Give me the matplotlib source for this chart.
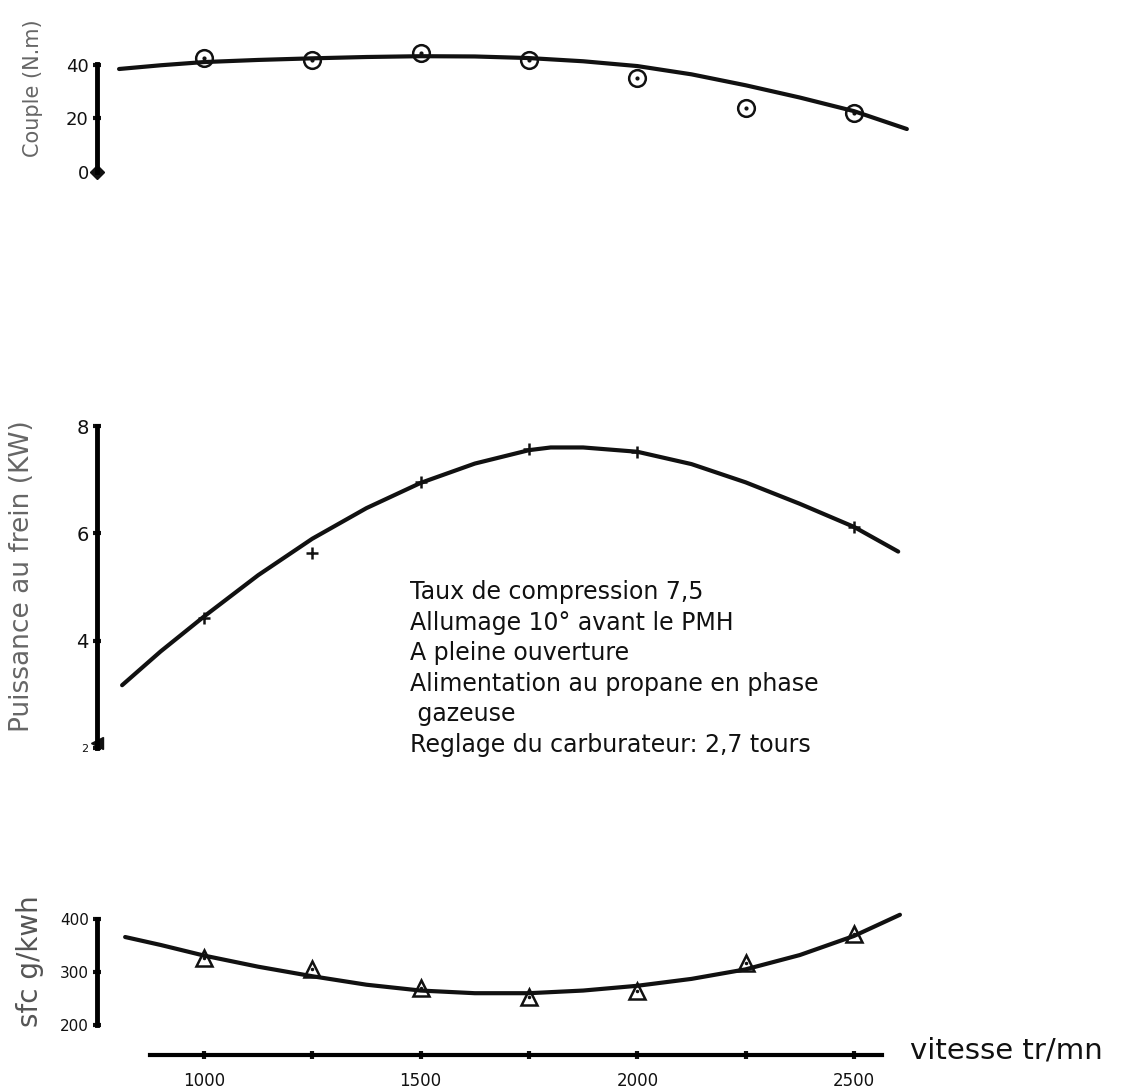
import numpy as np
import matplotlib.pyplot as plt

W, H, DPI = 1139, 1089, 100

# vitesse (tr/mn) des points de mesure
rpm_pts = [1000, 1250, 1500, 1750, 2000, 2250, 2500]

# couple (N.m) mesure
couple_pts = [42.5, 41.9, 44.4, 41.9, 35.3, 23.8, 21.9]
couple_rpm = [804, 900, 1000, 1125, 1250, 1375, 1500, 1625, 1750, 1875,
              2000, 2125, 2250, 2375, 2500, 2622]
couple_crv = [38.5, 39.9, 41.1, 41.9, 42.5, 43.0, 43.3, 43.2, 42.6, 41.4,
              39.6, 36.5, 32.4, 27.8, 22.7, 16.0]

# puissance au frein (kW)
puis_rpm_pts = [1000, 1250, 1500, 1750, 2000, 2500]
puis_pts = [4.42, 5.63, 6.96, 7.58, 7.52, 6.12]
puis_rpm = [811, 900, 1000, 1125, 1250, 1375, 1500, 1625, 1750, 1800, 1875,
            2000, 2125, 2250, 2375, 2500, 2602]
puis_crv = [3.17, 3.80, 4.45, 5.22, 5.90, 6.47, 6.94, 7.30, 7.55, 7.60, 7.60,
            7.52, 7.29, 6.95, 6.55, 6.12, 5.66]

# consommation specifique (g/kWh)
sfc_pts = [326, 305, 270, 252, 264, 317, 372]
sfc_rpm = [818, 900, 1000, 1125, 1250, 1375, 1500, 1625, 1750, 1875,
           2000, 2125, 2250, 2375, 2500, 2606]
sfc_crv = [366, 351, 331, 310, 292, 276, 265, 260, 260, 265,
           274, 287, 305, 332, 368, 408]

x_ticks = [1000, 1250, 1500, 1750, 2000, 2250, 2500]
x_labels = ['1000', '', '1500', '', '2000', '', '2500']

notes = ["Taux de compression 7,5",
         "Allumage 10° avant le PMH",
         "A pleine ouverture",
         "Alimentation au propane en phase",
         " gazeuse",
         "Reglage du carburateur: 2,7 tours"]

plt.rcParams['font.family'] = 'DejaVu Sans'
fig = plt.figure(figsize=(W / DPI, H / DPI), dpi=DPI)

# pixel -> rpm : 1000 a x=204, 2500 a x=854
def rpm_at(px):
    return 1000 + (px - 204) * 1500 / 650

X_SPINE = rpm_at(97)


def panel(top_px, bot_px, pa, va, pb, vb):
    ax = fig.add_axes([0, 1 - bot_px / H, 1, (bot_px - top_px) / H])
    k = (vb - va) / (pb - pa)
    ax.set_ylim(va + (bot_px - pa) * k, va + (top_px - pa) * k)
    ax.set_xlim(rpm_at(0), rpm_at(W))
    ax.patch.set_alpha(0)
    for s in ['top', 'right', 'bottom']:
        ax.spines[s].set_visible(False)
    ax.spines['left'].set_position(('data', X_SPINE))
    ax.spines['left'].set_linewidth(3.5)
    ax.set_xticks([])
    ax.tick_params(axis='y', direction='inout', length=6, width=3, pad=3,
                   labelsize=12, colors='#111')
    return ax


lc = '#111111'

# --- couple ---
ax1 = panel(0, 260, 65, 40, 171.7, 0)
ax1.spines['left'].set_bounds(0, 40.3)
ax1.set_yticks([0, 20, 40])
ax1.tick_params(axis='y', labelsize=13)
ax1.plot(couple_rpm, couple_crv, color=lc, lw=3, solid_capstyle='round')
ax1.plot(rpm_pts, couple_pts, 'o', ms=12, mfc='none', mec=lc, mew=1.8)
ax1.plot(rpm_pts, couple_pts, '.', ms=4, color=lc)
ax1.plot([X_SPINE], [0], 'D', ms=7, color=lc, clip_on=False)
ax1.text(rpm_at(33), 31.4, "Couple (N.m)", rotation=90, ha='center',
         va='center', fontsize=15, color='#666')

# --- puissance ---
ax2 = panel(380, 790, 426, 8, 748, 2)
ax2.spines['left'].set_bounds(2, 8)
ax2.set_yticks([2, 4, 6, 8])
ax2.set_yticklabels(['2', '4', '6', '8'])
ax2.tick_params(axis='y', labelsize=14)
ax2.get_yticklabels()[0].set_fontsize(8)
ax2.plot(puis_rpm, puis_crv, color=lc, lw=3, solid_capstyle='round')
ax2.plot(puis_rpm_pts, puis_pts, '+', ms=9, color=lc, mew=1.8)
ax2.plot([X_SPINE], [2.1], '<', ms=9, color=lc, clip_on=False)
ax2.text(rpm_at(22), 5.2, "Puissance au frein (KW)", rotation=90,
         ha='center', va='center', fontsize=19, color='#666')
for i, line in enumerate(notes):
    ax2.text(rpm_at(410), 8 - (592 + i * 30.6 - 426) / 53.67, line,
             fontsize=17, color='#111', ha='left', va='center')

# --- sfc ---
ax3 = panel(880, H, 919, 400, 1025, 200)
ax3.spines['left'].set_bounds(200, 400)
ax3.set_yticks([200, 300, 400])
ax3.tick_params(axis='y', labelsize=11)
ax3.plot(sfc_rpm, sfc_crv, color=lc, lw=3, solid_capstyle='round')
ax3.plot(rpm_pts, sfc_pts, '^', ms=12, mfc='none', mec=lc, mew=1.8)
ax3.plot(rpm_pts, sfc_pts, '.', ms=3, color=lc)
ax3.text(rpm_at(30), 320, "sfc g/kwh", rotation=90, ha='center',
         va='center', fontsize=20, color='#555')

# axe des vitesses
y_axis = 200 - (1055 - 1025) / 0.53
ax3.spines['bottom'].set_visible(True)
ax3.spines['bottom'].set_position(('data', y_axis))
ax3.spines['bottom'].set_bounds(rpm_at(150), rpm_at(882))
ax3.spines['bottom'].set_linewidth(3)
ax3.set_xticks(x_ticks)
ax3.set_xticklabels(x_labels)
ax3.tick_params(axis='x', direction='inout', length=6, width=3, pad=9,
                labelsize=12, colors='#111')
ax3.text(rpm_at(910), y_axis + 8, "vitesse tr/mn", fontsize=21,
         color='#111', ha='left', va='center')

fig.savefig('out.png', dpi=DPI)
